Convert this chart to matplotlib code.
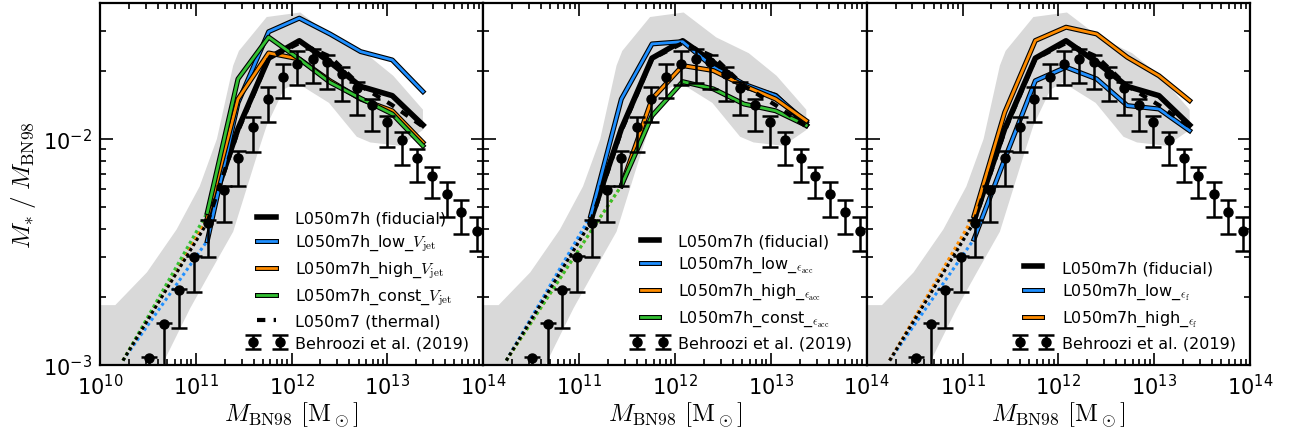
import numpy as np
import matplotlib
matplotlib.use("Agg")
import matplotlib.pyplot as plt
import matplotlib.patheffects as pe
from matplotlib.ticker import LogLocator, NullFormatter
from matplotlib.container import ErrorbarContainer
from matplotlib.legend_handler import HandlerErrorbar

plt.rcParams["mathtext.fontset"] = "cm"
plt.rcParams["font.family"] = ["DejaVu Sans"]

# ---------------------------------------------------------------------------
# Simulation curves: log10(M_BN98 / Msun) bin centres and log10(M* / M_BN98)
# ---------------------------------------------------------------------------
sim_logm = [10.24, 11.12, 11.44, 11.76, 12.08, 12.40, 12.72, 13.05, 13.37]

fiducial = [-2.98, -2.36, -1.955, -1.642, -1.565, -1.660, -1.767, -1.808, -1.938]
thermal = [-2.98, -2.37, -1.965, -1.645, -1.575, -1.635, -1.765, -1.850, -1.945]

low_vjet = [-2.98, -2.45, -1.840, -1.525, -1.465, -1.535, -1.613, -1.650, -1.790]
high_vjet = [-2.98, -2.35, -1.823, -1.619, -1.646, -1.742, -1.823, -1.875, -2.015]
const_vjet = [-2.98, -2.325, -1.734, -1.549, -1.646, -1.749, -1.820, -1.889, -2.030]

low_eacc = [-2.98, -2.34, -1.823, -1.579, -1.569, -1.682, -1.757, -1.808, -1.926]
high_eacc = [-2.98, -2.41, -2.207, -1.823, -1.675, -1.697, -1.764, -1.823, -1.919]
const_eacc = [-2.98, -2.41, -2.207, -1.897, -1.746, -1.778, -1.845, -1.875, -1.940]

low_ef = [-2.98, -2.443, -2.089, -1.742, -1.682, -1.734, -1.852, -1.867, -1.963]
high_ef = [-2.98, -2.34, -1.882, -1.564, -1.505, -1.535, -1.638, -1.720, -1.830]

# index of the first well-resolved bin (dotted below it)
res_index_default = 1
res_index_eacc_var = 2

# ---------------------------------------------------------------------------
# Scatter band of the fiducial run (log10 M* / M_BN98)
# ---------------------------------------------------------------------------
band_upper_logm = [10.00, 10.16, 10.49, 10.80, 11.04, 11.22, 11.39, 11.45,
                   11.74, 12.09, 12.43, 12.77, 13.06, 13.37]
band_upper = [-2.735, -2.735, -2.59, -2.40, -2.21, -2.00, -1.675, -1.61,
              -1.46, -1.44, -1.55, -1.62, -1.72, -1.87]
band_lower_logm = [10.00, 10.66, 10.94, 11.15, 11.39, 11.64, 11.74, 11.92,
                   12.05, 12.39, 12.68, 12.82, 13.13, 13.37]
band_lower = [-3.40, -2.99, -2.75, -2.59, -2.41, -2.07, -1.94, -1.78,
              -1.75, -1.84, -1.99, -2.015, -2.03, -1.96]

# ---------------------------------------------------------------------------
# Behroozi et al. (2019) relation: centre, upper and lower limits
# ---------------------------------------------------------------------------
behroozi_logm = [10.51, 10.67, 10.82, 10.98, 11.13, 11.29, 11.44, 11.60,
                 11.75, 11.91, 12.06, 12.22, 12.37, 12.53, 12.68, 12.84,
                 12.99, 13.15, 13.31, 13.46, 13.62, 13.77, 13.93]
behroozi_mid = [-2.967, -2.818, -2.668, -2.520, -2.372, -2.226, -2.084, -1.948,
                -1.823, -1.727, -1.668, -1.645, -1.660, -1.712, -1.775, -1.849,
                -1.923, -2.003, -2.084, -2.162, -2.242, -2.325, -2.406]
behroozi_hi = [-2.963, -2.814, -2.664, -2.516, -2.357, -2.210, -2.052, -1.901,
               -1.771, -1.668, -1.609, -1.601, -1.628, -1.682, -1.749, -1.823,
               -1.897, -1.970, -2.044, -2.123, -2.192, -2.270, -2.344]
behroozi_lo = [-3.30, -3.20, -2.835, -2.677, -2.520, -2.366, -2.207, -2.058,
               -1.923, -1.820, -1.761, -1.752, -1.778, -1.830, -1.892, -1.963,
               -2.037, -2.114, -2.189, -2.263, -2.344, -2.421, -2.495]

BLUE = "#1f8fff"
ORANGE = "#ff8c00"
GREEN = "#33c133"

panels = [
    [(r"L050m7h_low_$V_{\rm jet}$", low_vjet, BLUE, res_index_default),
     (r"L050m7h_high_$V_{\rm jet}$", high_vjet, ORANGE, res_index_default),
     (r"L050m7h_const_$V_{\rm jet}$", const_vjet, GREEN, res_index_default)],
    [(r"L050m7h_low_${}_{\epsilon_{\rm acc}}$", low_eacc, BLUE, res_index_default),
     (r"L050m7h_high_${}_{\epsilon_{\rm acc}}$", high_eacc, ORANGE, res_index_eacc_var),
     (r"L050m7h_const_${}_{\epsilon_{\rm acc}}$", const_eacc, GREEN, res_index_eacc_var)],
    [(r"L050m7h_low_${}_{\epsilon_{\rm f}}$", low_ef, BLUE, res_index_default),
     (r"L050m7h_high_${}_{\epsilon_{\rm f}}$", high_ef, ORANGE, res_index_default)],
]
thermal_in_legend = [True, False, False]

fig, axes = plt.subplots(1, 3, figsize=(12.9, 4.35), dpi=100, sharey=True)
fig.subplots_adjust(left=0.0775, right=0.969, bottom=0.1586, top=0.9908, wspace=0)

m_sim = 10.0 ** np.array(sim_logm)
outline = [pe.Stroke(linewidth=3.6, foreground="k"), pe.Normal()]


def draw_curve(ax, logratio, color, res_idx, label, lw, effects=None, ls="-", z=3):
    y = 10.0 ** np.array(logratio)
    ax.plot(m_sim[:res_idx + 1], y[:res_idx + 1], ls=(0, (1, 1)), lw=2.2,
            color=color, zorder=z - 0.5)
    line, = ax.plot(m_sim[res_idx:], y[res_idx:], ls=ls, lw=lw, color=color,
                    label=label, path_effects=effects, zorder=z)
    return line


for i, ax in enumerate(axes):
    # scatter band
    poly_x = 10.0 ** np.concatenate([band_upper_logm, band_lower_logm[::-1]])
    poly_y = 10.0 ** np.concatenate([band_upper, band_lower[::-1]])
    ax.fill(poly_x, poly_y, color="0.85", lw=0, zorder=1)

    handles = []
    handles.append(draw_curve(ax, fiducial, "k", res_index_default,
                              "L050m7h (fiducial)", 4.0, z=3))
    for label, vals, col, ridx in panels[i]:
        handles.append(draw_curve(ax, vals, col, ridx, label, 2.0,
                                  effects=outline, z=4))
    th = draw_curve(ax, thermal, "k", res_index_default, "L050m7 (thermal)",
                    3.0, ls=(0, (2, 2)), z=5)
    if thermal_in_legend[i]:
        handles.append(th)

    mid = 10.0 ** np.array(behroozi_mid)
    yerr = [mid - 10.0 ** np.array(behroozi_lo), 10.0 ** np.array(behroozi_hi) - mid]
    eb = ax.errorbar(10.0 ** np.array(behroozi_logm), mid, yerr=yerr, fmt="o",
                     color="k", ms=6.5, capsize=6, elinewidth=1.8,
                     capthick=1.8, zorder=6, label="Behroozi et al. (2019)")
    handles.append(eb)

    ax.set_xscale("log")
    ax.set_yscale("log")
    ax.set_xlim(1e10, 1e14)
    ax.set_ylim(1e-3, 4e-2)

    ax.xaxis.set_major_locator(LogLocator(base=10, numticks=10))
    ax.xaxis.set_minor_locator(LogLocator(base=10, subs=np.arange(2, 10), numticks=20))
    ax.xaxis.set_minor_formatter(NullFormatter())
    ax.yaxis.set_minor_formatter(NullFormatter())

    ax.tick_params(which="both", direction="in", top=True, right=True,
                   labelsize=15, width=1.2, pad=6)
    ax.tick_params(which="major", length=9)
    ax.tick_params(which="minor", length=4.5)
    for sp in ax.spines.values():
        sp.set_linewidth(1.6)

    ax.set_xlabel(r"$M_{\rm BN98}\ [{\rm M}_\odot]$", fontsize=18, labelpad=1)

    ax.legend(handles=handles, loc="lower right", frameon=False, fontsize=11.5,
              numpoints=2, handlelength=1.75, labelspacing=0.42,
              handletextpad=0.9,
              handler_map={ErrorbarContainer: HandlerErrorbar(marker_pad=0.05,
                                                              yerr_size=0.45)})

    if i > 0:
        fig.canvas.draw()
        for lab in ax.get_xticklabels():
            if lab.get_position()[0] <= 1.0e10 * 1.01:
                lab.set_visible(False)

axes[0].set_ylabel(r"$M_{*}\;/\;M_{\rm BN98}$", fontsize=18, labelpad=3)

fig.savefig("out.png", dpi=100)
